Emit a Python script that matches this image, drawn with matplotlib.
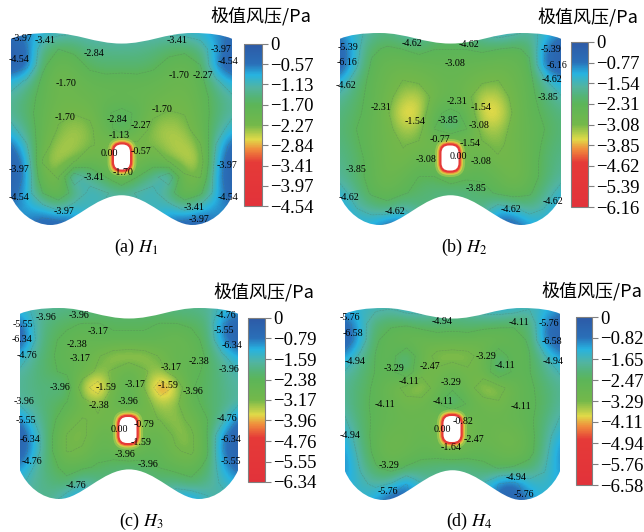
import numpy as np
import matplotlib
matplotlib.use('Agg')
import matplotlib.pyplot as plt
from matplotlib.colors import LinearSegmentedColormap
from matplotlib.patches import FancyBboxPatch, PathPatch
from matplotlib.path import Path

plt.rcParams['font.family'] = ['Liberation Serif', 'DejaVu Serif']
plt.rcParams['mathtext.fontset'] = 'stix'

# surface values, 13 rows x 15 columns, top row first
h1_field = [
    [-0.5, -0.7, -0.9, -1.0, -1.1, -1.1, -1.1, -1.1, -1.1, -1.1, -1.1, -1.0, -0.9, -0.7, -0.5],
    [-0.2, -0.5, -1.4, -1.7, -1.6, -1.35, -1.35, -1.3, -1.35, -1.4, -1.55, -1.6, -1.4, -0.8, -0.3],
    [-0.2, -0.4, -1.6, -2.0, -1.9, -1.6, -1.5, -1.55, -1.5, -1.6, -1.85, -1.95, -1.7, -0.6, -0.2],
    [-0.9, -1.2, -1.8, -2.15, -2.05, -1.9, -1.85, -1.85, -1.85, -1.9, -2.0, -2.05, -1.85, -1.2, -0.8],
    [-1.25, -1.5, -1.85, -2.1, -2.1, -2.0, -1.95, -1.95, -1.95, -2.0, -2.1, -2.15, -1.9, -1.5, -1.2],
    [-1.3, -1.55, -1.9, -2.2, -2.25, -2.2, -1.75, -1.6, -1.75, -2.2, -2.3, -2.25, -1.95, -1.5, -1.25],
    [-1.0, -1.4, -1.95, -2.3, -2.45, -2.35, -1.95, -1.4, -1.95, -2.4, -2.5, -2.4, -2.0, -1.4, -0.9],
    [-0.5, -1.1, -2.1, -2.45, -2.5, -2.3, -2.2, -2.6, -2.35, -2.3, -2.5, -2.55, -2.3, -1.1, -0.4],
    [-0.2, -0.8, -2.3, -2.55, -2.3, -2.0, -2.1, -2.6, -2.15, -1.95, -2.3, -2.55, -2.55, -0.9, -0.2],
    [-0.2, -0.7, -2.1, -2.3, -0.75, -1.3, -1.7, -2.2, -1.7, -1.3, -0.75, -2.2, -2.3, -0.8, -0.2],
    [-0.3, -0.9, -1.7, -2.1, -1.5, -1.0, -1.1, -1.25, -1.1, -1.0, -1.5, -2.1, -1.8, -0.9, -0.3],
    [-0.6, -0.8, -0.9, -1.2, -0.9, -1.1, -1.2, -1.2, -1.2, -1.1, -0.9, -1.2, -0.9, -0.7, -0.6],
    [-0.9, -0.6, -0.3, -0.3, -0.5, -1.1, -1.2, -1.2, -1.2, -1.1, -0.5, -0.3, -0.3, -0.6, -0.9],
]
h2_field = [
    [-0.9, -1.4, -1.7, -1.9, -1.6, -1.5, -1.9, -2.0, -1.9, -1.5, -1.2, -1.4, -1.7, -1.4, -0.9],
    [-0.4, -1.3, -2.2, -2.4, -2.3, -2.1, -2.3, -2.3, -2.3, -2.2, -2.3, -2.4, -2.2, -0.8, -0.3],
    [-0.3, -1.4, -2.4, -2.7, -2.75, -2.7, -2.6, -2.55, -2.6, -2.7, -2.75, -2.7, -2.4, -0.6, -0.3],
    [-1.1, -1.9, -2.5, -2.8, -3.1, -3.0, -2.8, -2.65, -2.8, -3.0, -3.1, -2.8, -2.5, -1.6, -1.0],
    [-1.7, -2.1, -2.5, -2.9, -3.4, -3.5, -2.9, -2.6, -2.9, -3.5, -3.5, -2.9, -2.5, -2.0, -1.6],
    [-1.9, -2.2, -2.5, -3.0, -3.8, -3.7, -2.4, -2.2, -2.4, -3.7, -3.8, -3.0, -2.5, -2.2, -1.9],
    [-2.0, -2.3, -2.6, -2.9, -3.4, -3.3, -2.3, -1.8, -2.3, -3.3, -3.4, -2.9, -2.6, -2.3, -2.0],
    [-1.9, -2.2, -2.6, -2.9, -3.1, -3.0, -2.9, -3.5, -2.9, -3.0, -3.2, -2.9, -2.6, -2.2, -1.9],
    [-1.8, -2.1, -2.5, -2.9, -3.0, -2.6, -2.7, -3.5, -2.8, -2.6, -3.0, -3.0, -2.6, -2.1, -1.8],
    [-1.7, -2.1, -2.5, -2.9, -2.6, -2.3, -2.3, -2.7, -2.4, -2.4, -2.6, -3.0, -2.6, -2.1, -1.7],
    [-1.3, -1.8, -2.4, -2.6, -2.4, -2.1, -1.9, -1.8, -1.9, -2.1, -2.4, -2.6, -2.4, -1.8, -1.3],
    [-1.0, -1.5, -1.8, -2.0, -1.5, -1.9, -2.0, -2.0, -2.0, -1.9, -1.2, -1.4, -1.8, -1.5, -1.0],
    [-1.0, -1.2, -1.1, -0.6, -0.6, -1.5, -2.0, -2.0, -2.0, -1.5, -0.5, -0.5, -1.0, -1.2, -1.0],
]
h3_field = [
    [-1.4, -1.7, -1.8, -1.9, -1.9, -2.0, -2.1, -2.1, -2.1, -2.0, -1.9, -1.9, -1.8, -1.5, -1.2],
    [-0.6, -1.7, -2.1, -2.3, -2.4, -2.4, -2.3, -2.3, -2.3, -2.4, -2.4, -2.3, -2.1, -0.8, -0.4],
    [-0.3, -1.6, -2.3, -2.5, -2.8, -2.5, -2.5, -2.5, -2.5, -2.6, -2.9, -2.6, -2.2, -0.9, -0.3],
    [-1.2, -1.9, -2.3, -2.7, -2.6, -3.1, -3.5, -3.6, -3.5, -3.1, -2.6, -2.8, -2.3, -1.7, -1.1],
    [-1.7, -2.0, -2.3, -2.5, -2.8, -3.3, -3.1, -2.6, -3.1, -3.4, -2.8, -2.5, -2.3, -1.9, -1.6],
    [-1.8, -2.0, -2.0, -1.9, -3.6, -4.4, -3.0, -2.5, -3.2, -4.5, -3.8, -2.4, -2.3, -1.9, -1.7],
    [-1.7, -1.9, -2.2, -2.4, -2.9, -3.3, -2.8, -2.3, -2.9, -3.5, -3.3, -2.6, -2.2, -2.0, -1.7],
    [-0.8, -1.7, -2.2, -2.8, -3.2, -3.1, -3.0, -3.8, -3.0, -3.2, -3.4, -3.0, -2.4, -1.8, -0.7],
    [-0.3, -1.3, -2.3, -3.2, -3.3, -2.8, -2.7, -3.8, -2.8, -2.7, -3.3, -3.3, -2.4, -0.9, -0.3],
    [-0.3, -1.3, -2.3, -3.2, -3.1, -2.6, -2.7, -3.0, -2.6, -2.6, -3.1, -3.3, -2.5, -0.8, -0.3],
    [-0.9, -1.7, -2.2, -2.6, -2.5, -2.3, -2.1, -2.0, -2.2, -2.4, -2.6, -2.7, -2.2, -1.2, -0.5],
    [-1.5, -1.8, -2.0, -2.2, -1.5, -1.9, -2.0, -2.0, -2.0, -2.0, -1.9, -2.2, -1.9, -1.5, -1.2],
    [-1.6, -1.8, -1.9, -1.2, -1.0, -1.8, -2.0, -2.0, -2.0, -1.6, -1.0, -0.9, -1.5, -1.8, -1.5],
]
h4_field = [
    [-1.3, -1.5, -1.5, -1.6, -1.3, -1.3, -1.7, -1.8, -1.7, -1.3, -1.2, -1.3, -1.6, -1.4, -1.1],
    [-0.5, -1.3, -2.2, -2.4, -2.4, -2.2, -2.1, -2.2, -2.1, -2.2, -2.3, -2.4, -2.2, -0.9, -0.4],
    [-0.3, -1.2, -2.4, -2.7, -3.0, -3.0, -2.8, -2.8, -2.8, -3.0, -3.0, -2.7, -2.4, -0.8, -0.4],
    [-1.0, -1.8, -2.5, -2.7, -1.9, -2.9, -3.5, -3.6, -3.5, -3.0, -2.0, -2.8, -2.5, -1.7, -1.0],
    [-1.7, -2.1, -2.5, -2.6, -2.0, -3.1, -3.2, -2.8, -3.2, -3.0, -1.9, -2.6, -2.5, -2.0, -1.6],
    [-1.9, -2.2, -2.6, -3.0, -3.5, -3.7, -3.0, -2.6, -3.0, -3.7, -3.6, -2.9, -2.6, -2.2, -1.9],
    [-1.8, -2.3, -2.6, -2.8, -3.1, -3.0, -2.6, -1.7, -2.6, -3.0, -3.2, -2.8, -2.6, -2.3, -1.8],
    [-1.6, -2.2, -2.6, -2.8, -2.9, -2.9, -3.1, -3.8, -3.1, -2.9, -2.9, -2.8, -2.6, -2.1, -1.6],
    [-1.2, -2.1, -2.7, -3.0, -3.0, -2.8, -2.9, -3.9, -3.1, -2.9, -3.1, -3.1, -2.7, -2.0, -1.2],
    [-1.0, -1.9, -2.7, -3.1, -2.9, -2.7, -2.8, -3.0, -2.8, -2.7, -2.9, -3.1, -2.7, -1.9, -0.9],
    [-0.9, -1.7, -2.4, -2.7, -2.4, -2.2, -2.0, -1.9, -2.0, -2.3, -2.5, -2.4, -2.2, -1.7, -1.0],
    [-1.2, -1.5, -1.8, -1.6, -0.8, -1.6, -1.9, -1.9, -1.9, -1.6, -0.8, -0.6, -1.4, -1.5, -1.2],
    [-1.4, -1.5, -1.1, -0.5, -0.5, -1.5, -1.9, -1.9, -1.9, -1.5, -0.6, -0.4, -0.9, -1.4, -1.4],
]

h1_ticks = [0, -0.57, -1.13, -1.70, -2.27, -2.84, -3.41, -3.97, -4.54]
h2_ticks = [0, -0.77, -1.54, -2.31, -3.08, -3.85, -4.62, -5.39, -6.16]
h3_ticks = [0, -0.79, -1.59, -2.38, -3.17, -3.96, -4.76, -5.55, -6.34]
h4_ticks = [0, -0.82, -1.65, -2.47, -3.29, -4.11, -4.94, -5.76, -6.58]

captions = [r'(a) $\mathit{H}_1$', r'(b) $\mathit{H}_2$', r'(c) $\mathit{H}_3$', r'(d) $\mathit{H}_4$']

# contour labels printed on the maps: text, then spot in the 3x zoomed panel
h1_labels = [('-3.97', 65, 115), ('-3.41', 135, 122), ('-3.41', 530, 122), ('-3.97', 662, 147),
             ('-4.54', 57, 177), ('-4.54', 683, 186), ('-2.84', 283, 162), ('-1.70', 197, 252),
             ('-1.70', 537, 228), ('-2.27', 610, 228), ('-1.70', 194, 352), ('-1.70', 485, 330),
             ('-2.84', 350, 357), ('-2.27', 422, 377), ('-1.13', 357, 405), ('0.00', 328, 460),
             ('-0.57', 422, 453), ('-1.70', 368, 518), ('-3.97', 58, 508), ('-3.97', 680, 497),
             ('-3.41', 281, 531), ('-4.54', 57, 591), ('-4.54', 683, 591), ('-3.41', 582, 621),
             ('-3.97', 192, 634), ('-3.97', 598, 657)]
h2_labels = [('-5.39', 77, 143), ('-6.16', 76, 188), ('-4.62', 73, 257), ('-4.62', 270, 131),
             ('-4.62', 440, 133), ('-5.39', 688, 148), ('-6.16', 705, 195), ('-4.62', 690, 240),
             ('-3.85', 677, 293), ('-3.08', 400, 192), ('-2.31', 178, 322), ('-2.31', 406, 306),
             ('-1.54', 478, 323), ('-1.54', 278, 365), ('-3.85', 378, 362), ('-3.08', 470, 377),
             ('-0.77', 355, 418), ('-1.54', 443, 430), ('0.00', 410, 470), ('-3.08', 313, 478),
             ('-3.08', 478, 485), ('-3.85', 102, 508), ('-3.85', 461, 565), ('-4.62', 80, 593),
             ('-4.62', 692, 606), ('-4.62', 218, 635), ('-4.62', 566, 629)]
h3_labels = [('-5.55', 70, 175), ('-3.96', 137, 156), ('-3.96', 238, 150), ('-4.76', 678, 148),
             ('-5.55', 673, 193), ('-6.34', 67, 222), ('-6.34', 695, 240), ('-3.17', 295, 198),
             ('-2.38', 232, 236), ('-3.17', 240, 277), ('-4.76', 80, 270), ('-2.38', 598, 285),
             ('-3.17', 514, 306), ('-3.96', 687, 311), ('-3.96', 180, 365), ('-1.59', 317, 365),
             ('-3.17', 405, 356), ('-1.59', 505, 360), ('-3.96', 578, 375), ('-3.96', 72, 408),
             ('-3.96', 385, 406), ('-2.38', 297, 418), ('-5.55', 78, 463), ('-4.76', 682, 458),
             ('-0.79', 432, 475), ('0.00', 357, 492), ('-6.34', 90, 520), ('-6.34', 692, 520),
             ('-1.59', 422, 530), ('-3.96', 376, 566), ('-4.76', 97, 585), ('-5.55', 692, 585),
             ('-3.96', 445, 595), ('-4.76', 228, 660)]
h4_labels = [('-5.76', 84, 153), ('-4.94', 360, 165), ('-4.11', 590, 170), ('-5.76', 680, 174),
             ('-6.58', 92, 203), ('-6.58', 690, 228), ('-3.29', 493, 272), ('-4.94', 98, 287),
             ('-4.94', 692, 287), ('-3.29', 217, 308), ('-2.47', 323, 302), ('-4.11', 550, 300),
             ('-4.11', 262, 348), ('-3.29', 388, 349), ('-4.11', 190, 416), ('-4.11', 363, 407),
             ('-4.11', 597, 421), ('-0.82', 424, 468), ('0.00', 362, 492), ('-4.94', 85, 509),
             ('-2.47', 455, 522), ('-1.64', 386, 543), ('-3.29', 201, 600), ('-4.94', 582, 636),
             ('-5.76', 199, 677), ('-5.76', 605, 685)]

fields = [h1_field, h2_field, h3_field, h4_field]
ticks = [h1_ticks, h2_ticks, h3_ticks, h4_ticks]
labels = [h1_labels, h2_labels, h3_labels, h4_labels]

# layout in figure pixels
panel_box = [(11, 33, 232, 225), (340, 33, 561, 225), (20, 308, 238, 499), (345, 308, 560, 500)]
cbar_box = [(244, 44, 262, 206), (571, 42, 588, 207), (248, 318, 265, 482), (576, 317, 592, 485)]
hole_box = [(122, 157, 16, 25), (450, 158, 17, 25), (128, 430, 17, 26), (452, 429, 17, 26)]
title_pos = [(210, 17), (537, 18), (213, 293), (541, 292)]
caption_pos = [(136, 247), (464, 247), (141, 521), (469, 521)]
zoom_org = [(0, 0), (322, 0), (0, 266), (322, 266)]

cmap = LinearSegmentedColormap.from_list('wind', [
    (0.0, '#e2323a'), (0.27, '#e53a38'), (0.35, '#f08c3c'), (0.41, '#e0da48'),
    (0.5, '#74b84a'), (0.625, '#5cb558'), (0.68, '#54b47a'), (0.73, '#52b4a0'), (0.81, '#27b3e0'),
    (0.88, '#2a6fb8'), (1.0, '#2d5aa6')])

# plate outline, fractions of the panel box
outline_verts = [(0, 0.03), (0.04, 0.01), (0.1, 0), (0.18, 0), (0.3, 0), (0.38, 0.055), (0.5, 0.055),
                 (0.62, 0.055), (0.7, 0), (0.82, 0), (0.9, 0), (0.96, 0.01), (1, 0.03), (1, 0.85),
                 (0.97, 0.93), (0.9, 1), (0.82, 1), (0.72, 1), (0.62, 0.845), (0.5, 0.845),
                 (0.38, 0.845), (0.28, 1), (0.18, 1), (0.1, 1), (0.03, 0.93), (0, 0.85), (0, 0.03)]
outline_codes = [Path.MOVETO] + [Path.CURVE4] * 12 + [Path.LINETO] + [Path.CURVE4] * 12 + [Path.LINETO]

fig = plt.figure(figsize=(6.44, 5.32), dpi=100)
ax = fig.add_axes([0, 0, 1, 1])
ax.axis('off')

for i in range(4):
    x0, y0, x1, y1 = panel_box[i]
    data = np.array(fields[i])
    vmin = ticks[i][-1]
    xs = np.linspace(x0, x1, data.shape[1])
    ys = np.linspace(y0, y1, data.shape[0])
    dx, dy = xs[1] - xs[0], ys[1] - ys[0]

    verts = np.array(outline_verts) * [x1 - x0, y1 - y0] + [x0, y0]
    clip = PathPatch(Path(verts, outline_codes), transform=ax.transData, fc='none', ec='none')
    ax.add_patch(clip)

    im = ax.imshow(data, extent=(x0 - dx / 2, x1 + dx / 2, y1 + dy / 2, y0 - dy / 2), cmap=cmap,
                   vmin=vmin, vmax=0, interpolation='bicubic', aspect='auto', zorder=1)
    im.set_clip_path(clip)
    cs = ax.contour(xs, ys, data, levels=sorted(ticks[i]), colors='#56705a', linewidths=0.4,
                    alpha=0.4, zorder=2)
    cs.set_clip_path(clip)

    # hole in the plate with its thin high-suction ring
    cx, cy, w, h = hole_box[i]
    for grow, color, alpha in [(6.5, '#b8d050', 0.55), (4.5, '#e8cc44', 0.8), (3.2, '#f08c3c', 1),
                               (2.2, '#e53a38', 1), (0, 'white', 1)]:
        ax.add_patch(FancyBboxPatch((cx - w / 2 + 4, cy - h / 2 + 4), w - 8, h - 8,
                                    boxstyle='round,pad=%g,rounding_size=%g' % (4 + grow, 7.5 + grow),
                                    fc=color, ec='none', alpha=alpha, zorder=3))

    ox, oy = zoom_org[i]
    for txt, zx, zy in labels[i]:
        ax.text(ox + zx / 3, oy + zy / 3, txt, fontsize=7.2, family='Liberation Serif', ha='center',
                va='center', color='black', zorder=5)

    bx0, by0, bx1, by1 = cbar_box[i]
    cax = fig.add_axes([bx0 / 644, 1 - by1 / 532, (bx1 - bx0) / 644, (by1 - by0) / 532])
    cb = fig.colorbar(im, cax=cax, ticks=ticks[i])
    cb.ax.set_yticklabels(['0' if t == 0 else '\u2212%.2f' % abs(t) for t in ticks[i]])
    cb.ax.tick_params(length=4, width=0.8, color='#808080', labelsize=13.5, pad=2)
    cb.outline.set_edgecolor('#808080')
    cb.outline.set_linewidth(0.8)

    ax.text(title_pos[i][0], title_pos[i][1], '极值风压/Pa', fontsize=13,
            family=['Noto Sans CJK SC', 'DejaVu Sans'], ha='left', va='center')
    ax.text(caption_pos[i][0], caption_pos[i][1], captions[i], fontsize=13, ha='center', va='center')

ax.set_xlim(0, 644)
ax.set_ylim(532, 0)

fig.savefig('out.png', dpi=100)
